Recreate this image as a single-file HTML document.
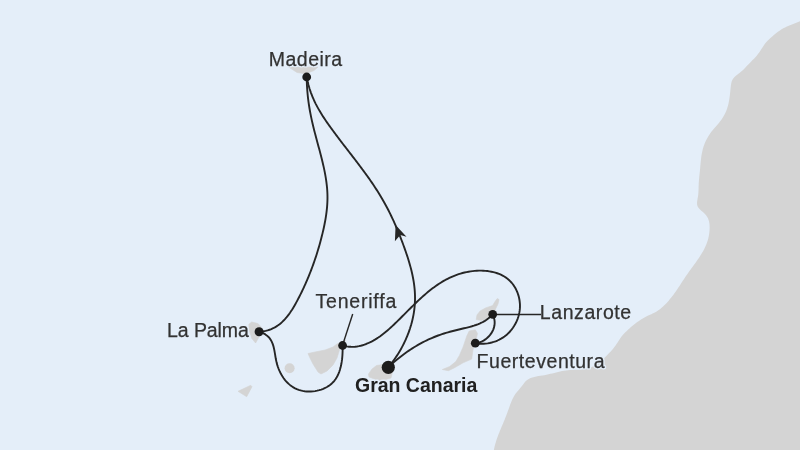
<!DOCTYPE html>
<html><head><meta charset="utf-8"><style>
html,body{margin:0;padding:0;width:800px;height:450px;overflow:hidden;background:#e4eef9}
svg{display:block;position:absolute;left:-8px;top:-8px;filter:blur(0.45px)}
text{font-family:"Liberation Sans",sans-serif;font-size:19.5px}
</style></head><body>
<svg width="816" height="466" viewBox="-8 -8 816 466">
<rect x="-8" y="-8" width="816" height="466" fill="#e4eef9"/>
<path d="M800.00,21.30 L798.17,22.11 L796.31,22.86 L794.42,23.58 L792.53,24.29 L790.63,25.00 L788.76,25.74 L786.90,26.54 L785.09,27.40 L783.33,28.35 L781.61,29.37 L779.93,30.47 L778.28,31.62 L776.67,32.83 L775.09,34.09 L773.53,35.37 L771.98,36.68 L770.46,38.01 L768.97,39.38 L767.54,40.79 L766.18,42.26 L764.93,43.82 L763.76,45.45 L762.66,47.13 L761.59,48.84 L760.50,50.54 L759.37,52.21 L758.17,53.84 L756.92,55.41 L755.61,56.94 L754.26,58.43 L752.86,59.87 L751.44,61.30 L750.02,62.71 L748.61,64.14 L747.23,65.60 L745.89,67.09 L744.53,68.59 L743.07,70.02 L741.47,71.36 L739.81,72.66 L738.13,73.94 L736.51,75.24 L735.00,76.59 L733.67,78.04 L732.57,79.61 L731.76,81.34 L731.25,83.22 L730.93,85.21 L730.71,87.24 L730.50,89.27 L730.29,91.29 L730.07,93.30 L729.84,95.31 L729.58,97.30 L729.29,99.29 L728.95,101.26 L728.56,103.21 L728.10,105.16 L727.57,107.09 L726.95,109.00 L726.24,110.89 L725.44,112.76 L724.55,114.59 L723.58,116.37 L722.51,118.09 L721.37,119.74 L720.17,121.34 L718.91,122.90 L717.62,124.44 L716.30,125.95 L714.99,127.46 L713.68,128.99 L712.40,130.53 L711.16,132.12 L709.97,133.75 L708.85,135.43 L707.80,137.16 L706.81,138.93 L705.90,140.74 L705.06,142.58 L704.31,144.45 L703.63,146.35 L703.04,148.27 L702.54,150.20 L702.10,152.16 L701.73,154.12 L701.41,156.10 L701.14,158.09 L700.91,160.09 L700.70,162.10 L700.51,164.11 L700.33,166.12 L700.15,168.13 L699.95,170.14 L699.75,172.15 L699.53,174.16 L699.32,176.16 L699.12,178.16 L698.94,180.16 L698.80,182.15 L698.70,184.13 L698.63,186.12 L698.59,188.10 L698.53,190.10 L698.43,192.11 L698.27,194.15 L698.01,196.21 L697.65,198.30 L697.28,200.39 L697.05,202.44 L697.08,204.38 L697.53,206.18 L698.48,207.80 L699.79,209.29 L701.32,210.71 L702.91,212.11 L704.47,213.54 L705.89,215.03 L707.06,216.63 L707.98,218.35 L708.67,220.17 L709.16,222.06 L709.46,224.03 L709.61,226.04 L709.63,228.08 L709.55,230.14 L709.37,232.21 L709.11,234.26 L708.76,236.28 L708.32,238.26 L707.79,240.20 L707.18,242.10 L706.49,243.97 L705.73,245.81 L704.91,247.61 L704.02,249.39 L703.08,251.14 L702.09,252.87 L701.05,254.58 L699.98,256.27 L698.87,257.95 L697.73,259.61 L696.57,261.26 L695.40,262.91 L694.20,264.55 L693.01,266.19 L691.81,267.82 L690.61,269.46 L689.43,271.11 L688.25,272.76 L687.10,274.42 L685.96,276.09 L684.84,277.76 L683.73,279.44 L682.63,281.12 L681.53,282.80 L680.43,284.48 L679.33,286.16 L678.22,287.82 L677.10,289.48 L675.96,291.13 L674.81,292.76 L673.64,294.38 L672.44,295.98 L671.22,297.57 L669.96,299.12 L668.67,300.66 L667.33,302.17 L665.96,303.65 L664.54,305.10 L663.07,306.51 L661.55,307.86 L659.97,309.14 L658.34,310.33 L656.64,311.41 L654.89,312.39 L653.09,313.29 L651.28,314.14 L649.45,314.99 L647.63,315.84 L645.83,316.74 L644.06,317.70 L642.33,318.72 L640.62,319.78 L638.95,320.90 L637.30,322.06 L635.68,323.26 L634.08,324.50 L632.52,325.77 L630.98,327.07 L629.46,328.41 L627.97,329.76 L626.50,331.13 L625.06,332.53 L623.67,333.98 L622.37,335.49 L621.14,337.09 L619.99,338.74 L618.88,340.43 L617.78,342.13 L616.68,343.83 L615.55,345.49 L614.37,347.09 L613.12,348.64 L611.83,350.15 L610.50,351.63 L609.13,353.10 L607.72,354.56 L606.30,356.01 L604.84,357.45 L603.36,358.87 L601.84,360.24 L600.28,361.56 L598.69,362.82 L597.05,363.99 L595.37,365.08 L593.65,366.05 L591.88,366.91 L590.05,367.64 L588.18,368.22 L586.25,368.68 L584.29,369.04 L582.30,369.30 L580.28,369.49 L578.24,369.63 L576.18,369.73 L574.12,369.82 L572.06,369.91 L570.01,370.03 L567.98,370.19 L565.96,370.40 L563.97,370.69 L562.01,371.05 L560.06,371.46 L558.13,371.91 L556.20,372.39 L554.27,372.88 L552.34,373.38 L550.40,373.87 L548.44,374.33 L546.46,374.76 L544.46,375.14 L542.43,375.47 L540.39,375.79 L538.35,376.11 L536.33,376.48 L534.35,376.91 L532.41,377.45 L530.54,378.11 L528.75,378.93 L527.08,379.95 L525.61,381.23 L524.33,382.75 L523.14,384.38 L521.93,386.02 L520.66,387.59 L519.34,389.13 L518.03,390.66 L516.74,392.21 L515.53,393.80 L514.42,395.45 L513.43,397.18 L512.53,398.97 L511.71,400.80 L510.95,402.68 L510.23,404.58 L509.54,406.49 L508.86,408.40 L508.17,410.30 L507.48,412.20 L506.78,414.08 L506.07,415.96 L505.34,417.83 L504.60,419.70 L503.84,421.55 L503.06,423.41 L502.28,425.26 L501.50,427.12 L500.71,428.97 L499.94,430.83 L499.18,432.69 L498.44,434.56 L497.72,436.44 L497.04,438.33 L496.39,440.24 L495.79,442.15 L495.23,444.09 L494.73,446.04 L494.28,448.01 L493.90,450.00 L491,458 L808,458 L808,20 Z" fill="#d4d4d4"/>
<polygon points="288.5,67.0 318.0,67.0 314.0,70.5 306.0,73.8 297.0,72.5" fill="#d4d4d4" stroke="#d4d4d4" stroke-width="0.6" stroke-linejoin="round"/>
<polygon points="251.7,322.0 257.9,323.6 261.0,326.7 262.0,331.0 259.0,337.0 255.6,343.0 251.7,338.3 249.3,330.6 248.8,324.3" fill="#d4d4d4" stroke="#d4d4d4" stroke-width="0.6" stroke-linejoin="round"/>
<polygon points="308.0,353.5 315.0,352.0 325.0,350.0 333.0,347.0 337.0,344.0 346.0,340.0 340.0,348.0 337.0,358.0 333.0,365.0 327.0,371.0 321.0,374.0 318.0,372.0 313.0,364.0 310.0,358.0" fill="#d4d4d4" stroke="#d4d4d4" stroke-width="0.6" stroke-linejoin="round"/>
<polygon points="238.0,391.3 250.7,385.3 252.0,386.7 246.7,396.7" fill="#d4d4d4" stroke="#d4d4d4" stroke-width="0.6" stroke-linejoin="round"/>
<polygon points="376.5,365.5 386.0,364.0 393.0,370.0 391.0,378.0 380.0,381.0 369.0,377.0 368.5,374.0 372.0,369.0" fill="#d4d4d4" stroke="#d4d4d4" stroke-width="0.6" stroke-linejoin="round"/>
<polygon points="469.2,331.0 475.3,329.8 477.5,333.4 476.0,340.0 474.0,345.0 472.9,350.6 471.7,359.1 463.1,362.8 454.6,367.7 448.4,370.7 442.3,369.5 449.7,366.5 455.8,361.6 459.4,355.5 463.1,346.9 466.8,335.9" fill="#d4d4d4" stroke="#d4d4d4" stroke-width="0.6" stroke-linejoin="round"/>
<polygon points="497.2,298.6 499.0,299.5 498.0,304.0 496.0,308.0 494.0,313.0 488.0,318.0 481.7,320.4 476.2,319.6 477.0,314.9 480.1,311.0 485.6,307.9 492.6,305.6 494.9,301.7" fill="#d4d4d4" stroke="#d4d4d4" stroke-width="0.6" stroke-linejoin="round"/>
<circle cx="289.6" cy="368.2" r="5" fill="#d4d4d4"/>
<text x="268.8" y="66.2" textLength="73.3" lengthAdjust="spacing" font-weight="normal" fill="#e4eef9" stroke="#e4eef9" stroke-width="3" stroke-linejoin="round" paint-order="stroke">Madeira</text>
<text x="167.1" y="336.9" textLength="81.7" lengthAdjust="spacing" font-weight="normal" fill="#e4eef9" stroke="#e4eef9" stroke-width="3" stroke-linejoin="round" paint-order="stroke">La Palma</text>
<text x="315.5" y="307.5" textLength="80.8" lengthAdjust="spacing" font-weight="normal" fill="#e4eef9" stroke="#e4eef9" stroke-width="3" stroke-linejoin="round" paint-order="stroke">Teneriffa</text>
<text x="539.8" y="318.6" textLength="91.4" lengthAdjust="spacing" font-weight="normal" fill="#e4eef9" stroke="#e4eef9" stroke-width="3" stroke-linejoin="round" paint-order="stroke">Lanzarote</text>
<text x="476.6" y="368.0" textLength="127.9" lengthAdjust="spacing" font-weight="normal" fill="#e4eef9" stroke="#e4eef9" stroke-width="3" stroke-linejoin="round" paint-order="stroke">Fuerteventura</text>
<text x="355.0" y="391.8" textLength="122.3" lengthAdjust="spacing" font-weight="bold" fill="#e4eef9" stroke="#e4eef9" stroke-width="3" stroke-linejoin="round" paint-order="stroke">Gran Canaria</text>
<line x1="492.7" y1="314.5" x2="541" y2="314.5" stroke="#262626" stroke-width="1.4"/>
<line x1="342.7" y1="344.7" x2="352.7" y2="314" stroke="#262626" stroke-width="1.4"/>
<path d="M388.30,367.30 L389.59,365.74 L390.85,364.15 L392.09,362.54 L393.31,360.91 L394.49,359.26 L395.65,357.58 L396.78,355.89 L397.88,354.18 L398.95,352.44 L400.00,350.69 L401.01,348.92 L401.99,347.14 L402.94,345.33 L403.86,343.52 L404.75,341.68 L405.60,339.84 L406.42,337.97 L407.21,336.10 L407.96,334.21 L408.68,332.32 L409.36,330.41 L410.01,328.49 L410.61,326.56 L411.19,324.62 L411.72,322.67 L412.22,320.72 L412.68,318.75 L413.10,316.79 L413.48,314.81 L413.82,312.83 L414.12,310.85 L414.37,308.86 L414.59,306.87 L414.76,304.88 L414.89,302.89 L414.98,300.89 L415.02,298.90 L415.02,296.90 L414.98,294.90 L414.89,292.91 L414.77,290.92 L414.60,288.92 L414.39,286.93 L414.15,284.94 L413.88,282.96 L413.56,280.97 L413.22,278.98 L412.84,277.00 L412.44,275.02 L412.00,273.04 L411.54,271.07 L411.05,269.10 L410.54,267.13 L410.00,265.16 L409.44,263.20 L408.86,261.24 L408.26,259.29 L407.64,257.33 L407.01,255.39 L406.36,253.44 L405.70,251.50 L405.02,249.57 L404.33,247.64 L403.63,245.71 L402.92,243.79 L402.21,241.88 L401.48,239.97 L400.75,238.07 L400.01,236.17 L399.25,234.28 L398.49,232.39 L397.72,230.51 L396.93,228.64 L396.14,226.77 L395.33,224.91 L394.52,223.06 L393.69,221.21 L392.84,219.37 L391.99,217.54 L391.12,215.72 L390.24,213.90 L389.34,212.09 L388.43,210.29 L387.51,208.50 L386.57,206.72 L385.62,204.94 L384.65,203.18 L383.67,201.42 L382.67,199.67 L381.65,197.94 L380.62,196.21 L379.57,194.48 L378.51,192.77 L377.44,191.07 L376.35,189.37 L375.25,187.68 L374.14,185.99 L373.02,184.32 L371.88,182.65 L370.74,180.98 L369.58,179.32 L368.42,177.67 L367.25,176.02 L366.06,174.38 L364.87,172.74 L363.68,171.11 L362.47,169.48 L361.27,167.85 L360.05,166.23 L358.83,164.61 L357.61,162.99 L356.38,161.38 L355.15,159.77 L353.91,158.16 L352.67,156.55 L351.44,154.94 L350.20,153.34 L348.96,151.73 L347.71,150.13 L346.47,148.52 L345.24,146.92 L344.00,145.31 L342.76,143.71 L341.53,142.10 L340.30,140.49 L339.07,138.88 L337.85,137.27 L336.63,135.66 L335.42,134.04 L334.22,132.42 L333.02,130.80 L331.82,129.17 L330.64,127.54 L329.46,125.91 L328.30,124.27 L327.15,122.62 L326.01,120.97 L324.89,119.31 L323.78,117.63 L322.70,115.95 L321.63,114.26 L320.59,112.56 L319.57,110.84 L318.57,109.11 L317.60,107.37 L316.66,105.61 L315.74,103.84 L314.86,102.05 L314.01,100.24 L313.20,98.41 L312.42,96.57 L311.67,94.70 L310.96,92.82 L310.29,90.92 L309.65,88.99 L309.06,87.05 L308.50,85.08 L307.99,83.10 L307.52,81.09 L307.09,79.05 L306.70,77.00" fill="none" stroke="#262626" stroke-width="1.9" stroke-linejoin="round"/>
<path d="M306.70,77.00 L306.73,79.05 L306.78,81.10 L306.86,83.14 L306.95,85.17 L307.07,87.20 L307.20,89.22 L307.36,91.24 L307.53,93.26 L307.73,95.27 L307.94,97.28 L308.18,99.28 L308.43,101.28 L308.71,103.27 L309.00,105.26 L309.31,107.25 L309.64,109.23 L309.99,111.22 L310.35,113.19 L310.74,115.17 L311.14,117.14 L311.56,119.12 L311.99,121.09 L312.44,123.05 L312.90,125.02 L313.38,126.98 L313.87,128.95 L314.36,130.91 L314.87,132.88 L315.38,134.84 L315.90,136.80 L316.42,138.77 L316.95,140.73 L317.48,142.70 L318.02,144.67 L318.55,146.64 L319.08,148.61 L319.61,150.58 L320.13,152.55 L320.65,154.53 L321.16,156.51 L321.66,158.49 L322.16,160.46 L322.64,162.45 L323.10,164.43 L323.55,166.41 L323.99,168.39 L324.40,170.38 L324.80,172.36 L325.18,174.35 L325.53,176.34 L325.86,178.32 L326.16,180.31 L326.44,182.30 L326.68,184.29 L326.90,186.28 L327.09,188.26 L327.24,190.25 L327.35,192.24 L327.43,194.23 L327.47,196.22 L327.48,198.21 L327.44,200.19 L327.37,202.18 L327.27,204.17 L327.13,206.15 L326.96,208.14 L326.75,210.13 L326.52,212.11 L326.26,214.09 L325.97,216.08 L325.66,218.06 L325.32,220.04 L324.96,222.02 L324.58,224.00 L324.18,225.98 L323.76,227.95 L323.32,229.93 L322.86,231.90 L322.39,233.87 L321.90,235.84 L321.41,237.81 L320.89,239.78 L320.37,241.75 L319.83,243.71 L319.27,245.67 L318.71,247.63 L318.13,249.58 L317.53,251.54 L316.93,253.49 L316.31,255.43 L315.67,257.37 L315.02,259.31 L314.36,261.25 L313.69,263.18 L313.00,265.10 L312.29,267.02 L311.58,268.94 L310.85,270.85 L310.10,272.76 L309.34,274.66 L308.57,276.56 L307.79,278.45 L306.99,280.33 L306.17,282.21 L305.35,284.08 L304.50,285.94 L303.65,287.80 L302.78,289.65 L301.90,291.49 L301.00,293.33 L300.09,295.16 L299.16,296.98 L298.22,298.79 L297.27,300.60 L296.30,302.39 L295.31,304.18 L294.31,305.94 L293.28,307.68 L292.22,309.40 L291.13,311.08 L290.02,312.73 L288.87,314.34 L287.68,315.91 L286.45,317.43 L285.18,318.89 L283.87,320.30 L282.50,321.65 L281.09,322.93 L279.62,324.15 L278.09,325.29 L276.50,326.35 L274.86,327.33 L273.14,328.23 L271.36,329.03 L269.51,329.74 L267.59,330.35 L265.59,330.85 L263.51,331.25 L261.35,331.53 L259.10,331.70" fill="none" stroke="#262626" stroke-width="1.9" stroke-linejoin="round"/>
<path d="M259.10,331.70 L261.44,332.47 L263.54,333.39 L265.40,334.45 L267.05,335.65 L268.49,336.97 L269.74,338.41 L270.81,339.95 L271.71,341.59 L272.47,343.32 L273.10,345.13 L273.63,347.00 L274.08,348.93 L274.46,350.91 L274.81,352.92 L275.15,354.95 L275.49,357.00 L275.85,359.05 L276.27,361.10 L276.76,363.12 L277.33,365.13 L277.98,367.10 L278.70,369.03 L279.51,370.93 L280.39,372.77 L281.35,374.56 L282.38,376.29 L283.49,377.96 L284.68,379.56 L285.94,381.08 L287.28,382.52 L288.69,383.88 L290.18,385.14 L291.74,386.30 L293.37,387.36 L295.07,388.31 L296.85,389.14 L298.70,389.85 L300.62,390.44 L302.60,390.90 L304.63,391.23 L306.70,391.44 L308.79,391.53 L310.90,391.50 L313.01,391.35 L315.12,391.08 L317.20,390.69 L319.26,390.18 L321.27,389.56 L323.23,388.82 L325.13,387.97 L326.95,387.00 L328.68,385.93 L330.31,384.74 L331.83,383.45 L333.23,382.04 L334.51,380.54 L335.67,378.94 L336.72,377.26 L337.67,375.50 L338.51,373.67 L339.26,371.78 L339.91,369.84 L340.48,367.86 L340.97,365.84 L341.39,363.79 L341.73,361.72 L342.01,359.64 L342.23,357.56 L342.40,355.49 L342.52,353.43 L342.59,351.39 L342.63,349.39 L342.63,347.42 L342.60,345.50" fill="none" stroke="#262626" stroke-width="1.9" stroke-linejoin="round"/>
<path d="M342.60,345.50 L344.74,346.04 L346.84,346.43 L348.91,346.69 L350.96,346.82 L352.97,346.83 L354.96,346.72 L356.91,346.50 L358.84,346.18 L360.73,345.76 L362.60,345.25 L364.45,344.66 L366.26,343.99 L368.05,343.24 L369.81,342.43 L371.55,341.56 L373.26,340.63 L374.95,339.65 L376.61,338.61 L378.26,337.53 L379.88,336.41 L381.48,335.24 L383.07,334.03 L384.64,332.79 L386.19,331.51 L387.73,330.20 L389.26,328.86 L390.77,327.50 L392.28,326.12 L393.77,324.71 L395.26,323.29 L396.74,321.86 L398.21,320.41 L399.68,318.96 L401.14,317.50 L402.60,316.04 L404.06,314.58 L405.52,313.11 L406.98,311.65 L408.44,310.19 L409.90,308.73 L411.36,307.28 L412.83,305.84 L414.30,304.40 L415.77,302.97 L417.26,301.56 L418.74,300.16 L420.24,298.77 L421.74,297.40 L423.25,296.04 L424.77,294.71 L426.31,293.39 L427.85,292.10 L429.41,290.83 L430.98,289.58 L432.56,288.36 L434.16,287.17 L435.78,286.00 L437.41,284.87 L439.06,283.77 L440.73,282.70 L442.42,281.67 L444.13,280.67 L445.86,279.71 L447.61,278.79 L449.38,277.91 L451.18,277.08 L453.00,276.29 L454.85,275.54 L456.72,274.84 L458.62,274.19 L460.55,273.59 L462.51,273.03 L464.50,272.54 L466.51,272.09 L468.55,271.70 L470.62,271.37 L472.70,271.10 L474.79,270.90 L476.89,270.75 L479.00,270.67 L481.10,270.66 L483.19,270.72 L485.27,270.85 L487.33,271.06 L489.37,271.34 L491.39,271.70 L493.37,272.13 L495.31,272.65 L497.21,273.26 L499.07,273.94 L500.87,274.72 L502.62,275.58 L504.31,276.54 L505.93,277.59 L507.48,278.73 L508.95,279.98 L510.34,281.32 L511.65,282.75 L512.87,284.28 L514.00,285.88 L515.05,287.56 L516.00,289.30 L516.85,291.11 L517.60,292.96 L518.26,294.87 L518.81,296.81 L519.26,298.78 L519.60,300.78 L519.83,302.79 L519.96,304.82 L519.96,306.85 L519.85,308.88 L519.63,310.90 L519.29,312.91 L518.85,314.89 L518.30,316.86 L517.65,318.79 L516.90,320.68 L516.05,322.54 L515.11,324.35 L514.07,326.10 L512.95,327.80 L511.74,329.44 L510.44,331.00 L509.07,332.50 L507.62,333.91 L506.09,335.24 L504.49,336.48 L502.82,337.63 L501.10,338.68 L499.31,339.65 L497.48,340.51 L495.60,341.28 L493.67,341.95 L491.71,342.52 L489.72,342.98 L487.70,343.34 L485.66,343.59 L483.60,343.74 L481.53,343.77 L479.45,343.69 L477.38,343.50 L475.30,343.20" fill="none" stroke="#262626" stroke-width="1.9" stroke-linejoin="round"/>
<path d="M475.30,343.30 L477.46,342.95 L479.56,342.38 L481.59,341.58 L483.53,340.58 L485.37,339.40 L487.09,338.05 L488.68,336.55 L490.11,334.91 L491.38,333.16 L492.46,331.30 L493.35,329.35 L494.02,327.34 L494.47,325.27 L494.67,323.16 L494.61,321.04 L494.27,318.91 L493.64,316.79 L492.70,314.70" fill="none" stroke="#262626" stroke-width="1.9" stroke-linejoin="round"/>
<path d="M492.70,314.30 L491.26,315.84 L489.76,317.26 L488.19,318.56 L486.57,319.74 L484.89,320.83 L483.16,321.82 L481.38,322.73 L479.57,323.56 L477.71,324.31 L475.82,325.01 L473.90,325.65 L471.96,326.24 L469.99,326.79 L468.01,327.31 L466.01,327.81 L464.00,328.29 L461.98,328.77 L459.97,329.24 L457.95,329.72 L455.94,330.21 L453.93,330.72 L451.93,331.24 L449.93,331.78 L447.94,332.33 L445.96,332.92 L443.99,333.52 L442.03,334.16 L440.07,334.82 L438.13,335.51 L436.20,336.24 L434.28,337.00 L432.37,337.79 L430.48,338.61 L428.60,339.46 L426.73,340.34 L424.88,341.25 L423.04,342.18 L421.21,343.15 L419.40,344.14 L417.61,345.15 L415.83,346.20 L414.07,347.27 L412.32,348.36 L410.59,349.47 L408.87,350.61 L407.18,351.78 L405.50,352.96 L403.84,354.17 L402.20,355.40 L400.57,356.65 L398.97,357.91 L397.38,359.20 L395.82,360.51 L394.27,361.83 L392.75,363.17 L391.24,364.53 L389.76,365.91 L388.30,367.30" fill="none" stroke="#262626" stroke-width="1.9" stroke-linejoin="round"/>
<polygon points="395.6,225 394.9,241.3 400.3,235 406.5,236.7" fill="#262626"/>
<circle cx="306.7" cy="77.0" r="4.4" fill="#1c1c1c"/>
<circle cx="259.1" cy="331.7" r="4.5" fill="#1c1c1c"/>
<circle cx="342.6" cy="345.5" r="4.4" fill="#1c1c1c"/>
<circle cx="492.7" cy="314.3" r="4.4" fill="#1c1c1c"/>
<circle cx="475.3" cy="343.2" r="4.4" fill="#1c1c1c"/>
<circle cx="388.3" cy="367.3" r="6.6" fill="#1c1c1c"/>
<text x="268.8" y="66.2" textLength="73.3" lengthAdjust="spacing" font-weight="normal" fill="#323232" stroke="#323232" stroke-width="0.25">Madeira</text>
<text x="167.1" y="336.9" textLength="81.7" lengthAdjust="spacing" font-weight="normal" fill="#323232" stroke="#323232" stroke-width="0.25">La Palma</text>
<text x="315.5" y="307.5" textLength="80.8" lengthAdjust="spacing" font-weight="normal" fill="#323232" stroke="#323232" stroke-width="0.25">Teneriffa</text>
<text x="539.8" y="318.6" textLength="91.4" lengthAdjust="spacing" font-weight="normal" fill="#323232" stroke="#323232" stroke-width="0.25">Lanzarote</text>
<text x="476.6" y="368.0" textLength="127.9" lengthAdjust="spacing" font-weight="normal" fill="#323232" stroke="#323232" stroke-width="0.25">Fuerteventura</text>
<text x="355.0" y="391.8" textLength="122.3" lengthAdjust="spacing" font-weight="bold" fill="#202020" stroke="#202020" stroke-width="0.00">Gran Canaria</text>
</svg>
</body></html>
